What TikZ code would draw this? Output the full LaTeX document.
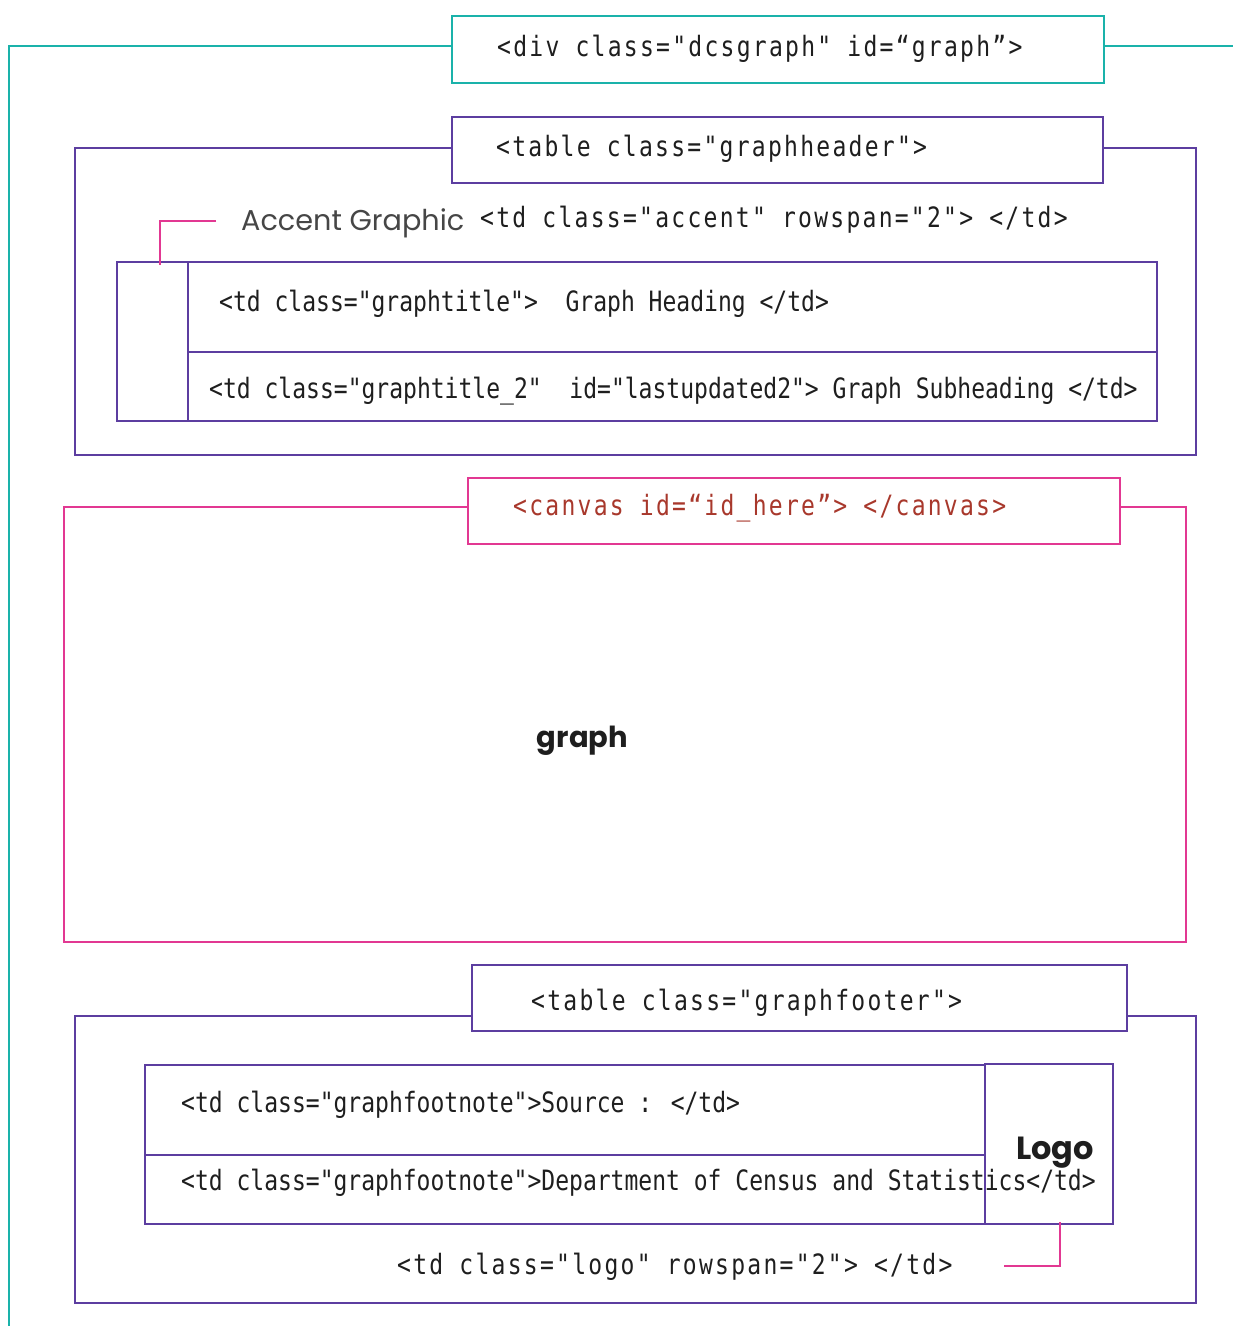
\documentclass[tikz,border=0pt]{standalone}
\usepackage{fontspec}
\newfontfamily\codefont[FakeStretch=0.822]{DejaVu Sans Mono}
\newfontfamily\codewide[FakeStretch=0.822,LetterSpace=8.1]{DejaVu Sans Mono}
\newfontfamily\labelfont{Poppins}
\definecolor{tealc}{RGB}{26,178,170}
\definecolor{purplec}{RGB}{92,62,160}
\definecolor{pinkc}{RGB}{226,56,146}
\definecolor{canvasc}{RGB}{168,56,44}
\definecolor{inkc}{RGB}{30,30,30}
\definecolor{grayc}{RGB}{70,70,70}
\tikzset{
  tealbox/.style={draw=tealc,line width=2.2pt,rectangle,inner sep=0pt},
  purplebox/.style={draw=purplec,line width=2.2pt,rectangle,inner sep=0pt},
  pinkbox/.style={draw=pinkc,line width=2.2pt,rectangle,inner sep=0pt},
  tealline/.style={draw=tealc,line width=2.2pt},
  purpleline/.style={draw=purplec,line width=2.2pt},
  pinkline/.style={draw=pinkc,line width=2.2pt},
  code/.style={anchor=west,inner sep=0pt,text=inkc,font=\codefont\fontsize{28}{30}\selectfont},
  codew/.style={anchor=west,inner sep=0pt,text=inkc,font=\codewide\fontsize{28}{30}\selectfont},
  lbl/.style={inner sep=0pt,text=grayc,font=\labelfont\fontsize{28.7}{30}\selectfont},
  bold/.style={inner sep=0pt,text=inkc,font=\labelfont\bfseries\fontsize{29}{30}\selectfont},
}
\begin{document}
\begin{tikzpicture}[x=1pt,y=-1pt]
\useasboundingbox (0,0) rectangle (1233,1326);
% ---- div ----
\node[tealbox,minimum width=652pt,minimum height=67pt] (div) at (778,49.5) {};
\node[codew] (divt) at (497,49) {<div class="dcsgraph" id=“graph”>};
\coordinate (divL) at (9,1330);
\coordinate (divR) at (1235,46);
\coordinate (divy) at (0,46);
\draw[tealline] (div.west |- divy) -| (divL);
\draw[tealline] (div.east |- divy) -- (divR);
% ---- header ----
\node[purplebox,minimum width=651pt,minimum height=66pt] (hdr) at (777.5,150) {};
\node[codew] (hdrt) at (496,149) {<table class="graphheader">};
\coordinate (hdry) at (0,148);
\coordinate (hdrBL) at (75,455);
\coordinate (hdrTR) at (1196,148);
\draw[purpleline] (hdr.west |- hdry) -| (hdrBL) -| (hdrTR) -- (hdr.east |- hdry);
\node[lbl,anchor=west] (acc) at (241,223) {Accent Graphic};
\node[codew] (acct) at (480,220) {<td class="accent" rowspan="2"> </td>};
\node[purplebox,minimum width=71pt,minimum height=159pt] (accent) at (152.5,341.5) {};
\node[purplebox,minimum width=969pt,minimum height=90pt] (title) at (672.5,307) {};
\node[purplebox,minimum width=969pt,minimum height=69pt] (subt) at (672.5,386.5) {};
\node[code] (titlet) at (219,304) {<td class="graphtitle">\ \ Graph Heading </td>};
\node[code] (subtt) at (209,391) {<td class="graphtitle\_2"\ \ id="lastupdated2"> Graph Subheading </td>};
\coordinate (accA) at (216,221);
\coordinate (accB) at (160,265);
\draw[pinkline] (accA) -| (accB);
% ---- canvas ----
\node[pinkbox,minimum width=652pt,minimum height=66pt] (cnv) at (794,511) {};
\node[codew,text=canvasc] (cnvt) at (513,508) {<canvas id=“id\_here”> </canvas>};
\coordinate (cnvy) at (0,507);
\coordinate (cnvBL) at (64,942);
\coordinate (cnvTR) at (1186,507);
\draw[pinkline] (cnv.west |- cnvy) -| (cnvBL) -| (cnvTR) -- (cnv.east |- cnvy);
\node[bold] (graph) at (582.5,741) {graph};
% ---- footer ----
\node[purplebox,minimum width=655pt,minimum height=66pt] (ftr) at (799.5,998) {};
\node[codew] (ftrt) at (531,1003) {<table class="graphfooter">};
\coordinate (ftry) at (0,1016);
\coordinate (ftrBL) at (75,1303);
\coordinate (ftrTR) at (1196,1016);
\draw[purpleline] (ftr.west |- ftry) -| (ftrBL) -| (ftrTR) -- (ftr.east |- ftry);
\node[purplebox,minimum width=840pt,minimum height=90pt] (src) at (565,1110) {};
\node[purplebox,minimum width=840pt,minimum height=69pt] (dept) at (565,1189.5) {};
\node[purplebox,minimum width=128pt,minimum height=160pt] (logo) at (1049,1144) {};
\node[code] (srct) at (181,1105) {<td class="graphfootnote">Source : </td>};
\node[code] (deptt) at (181,1183) {<td class="graphfootnote">Department of Census and Statistics</td>};
\node[bold,anchor=west,font=\labelfont\bfseries\fontsize{32}{34}\selectfont] (logot) at (1016,1153) {Logo};
\node[codew] (logotd) at (397,1267) {<td class="logo" rowspan="2"> </td>};
\coordinate (lgA) at (1004,1266);
\coordinate (lgB) at (1060,1222);
\draw[pinkline] (lgA) -| (lgB);
\end{tikzpicture}
\end{document}
